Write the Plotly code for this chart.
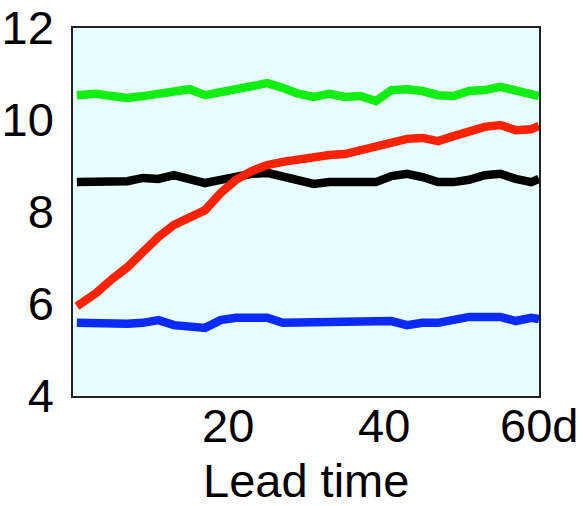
import plotly.graph_objects as go

lead_days = [0.5, 3, 5, 7, 9, 11, 13, 15, 17, 19, 21, 23, 25, 27, 29, 31, 33, 35, 37, 39,
             41, 43, 45, 47, 49, 51, 53, 55, 57, 59, 60]

green_vals = [10.54, 10.57, 10.52, 10.48, 10.52, 10.57, 10.61, 10.67, 10.54, 10.61, 10.70,
              10.74, 10.80, 10.70, 10.57, 10.50, 10.57, 10.50, 10.52, 10.41, 10.65, 10.67,
              10.63, 10.54, 10.52, 10.63, 10.65, 10.72, 10.65, 10.54, 10.52]

black_vals = [8.65, 8.67, 8.70, 8.67, 8.74, 8.72, 8.80, 8.70, 8.63, 8.70, 8.78, 8.83, 8.85,
              8.78, 8.70, 8.61, 8.65, 8.65, 8.65, 8.65, 8.78, 8.83, 8.76, 8.65, 8.65, 8.70,
              8.80, 8.83, 8.72, 8.65, 8.72]

red_vals = [5.95, 6.24, 6.54, 6.80, 7.13, 7.46, 7.72, 7.89, 8.04, 8.41, 8.70, 8.89, 9.02,
            9.09, 9.15, 9.20, 9.24, 9.26, 9.35, 9.43, 9.54, 9.59, 9.61, 9.54, 9.65, 9.76,
            9.85, 9.89, 9.78, 9.80, 9.87]

blue_vals = [5.59, 5.57, 5.54, 5.57, 5.59, 5.65, 5.54, 5.50, 5.48, 5.65, 5.70, 5.70, 5.70,
             5.59, 5.59, 5.59, 5.59, 5.59, 5.59, 5.59, 5.63, 5.54, 5.59, 5.59, 5.67, 5.72,
             5.72, 5.72, 5.63, 5.70, 5.67]

x_tick_vals = [20, 40, 60]
x_tick_text = ["20", "40", "60d"]
y_tick_vals = [4, 6, 8, 10, 12]
y_tick_text = ["4", "6", "8", "10", "12"]
x_title = "Lead time"

series = [
    (green_vals, "#11EE11"),
    (black_vals, "#000000"),
    (blue_vals, "#0A2AFF"),
    (red_vals, "#FF2200"),
]

fig = go.Figure()
for vals, col in series:
    fig.add_trace(go.Scatter(x=lead_days, y=vals, mode="lines",
                             line=dict(color=col, width=8.5), showlegend=False,
                             hoverinfo="skip"))

font = dict(family="Liberation Sans, Arial, Helvetica, sans-serif", size=47, color="#000")

annotations = [dict(text=t, xref="x", yref="paper", x=v, y=-0.003,
                    xanchor="center", yanchor="top", showarrow=False, font=font)
               for v, t in zip(x_tick_vals, x_tick_text)]
annotations.append(dict(text=x_title, xref="paper", yref="paper", x=0.5, y=-0.229,
                        xanchor="center", yanchor="middle", showarrow=False, font=font))

fig.update_layout(
    width=583, height=506,
    margin=dict(l=73, r=44, t=28, b=110),
    paper_bgcolor="white",
    plot_bgcolor="#E8FFFF",
    font=font,
    xaxis=dict(range=[0, 60], tickvals=x_tick_vals, showticklabels=False,
               showgrid=False, zeroline=False, ticks="", showline=True, mirror=True,
               linecolor="#222", linewidth=1.5, automargin=False),
    yaxis=dict(range=[4, 12], tickvals=y_tick_vals, ticktext=y_tick_text,
               showgrid=False, zeroline=False, ticks="", showline=True, mirror=True,
               linecolor="#222", linewidth=1.5, ticklabelstandoff=8, automargin=False),
    annotations=annotations,
)

fig.write_html("out.html")
